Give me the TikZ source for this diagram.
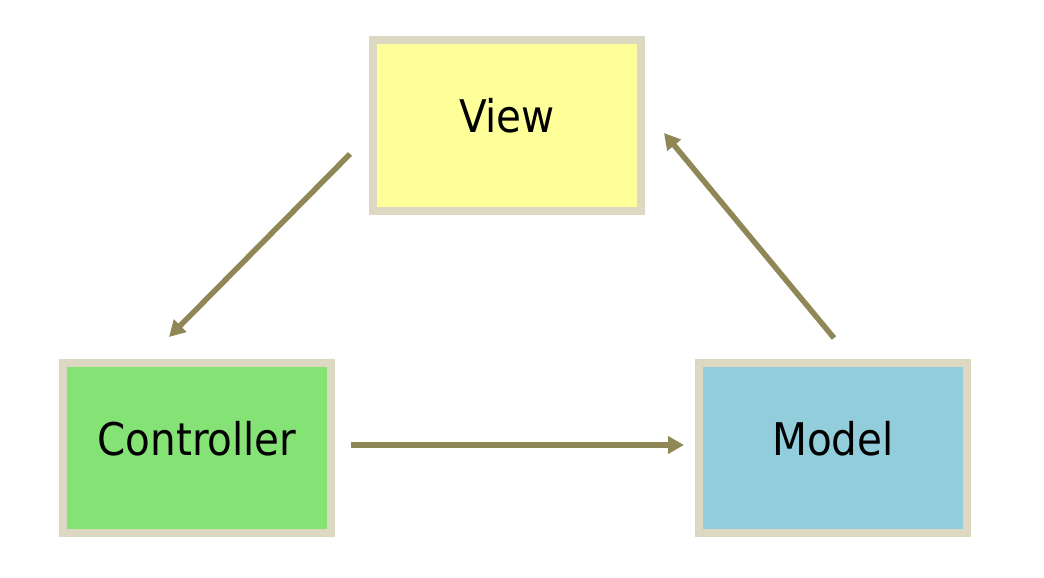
\documentclass[tikz,border=0pt]{standalone}
\usepackage{fontspec}
\usepackage{xcolor}
\usepackage{tikz}
\usetikzlibrary{arrows.meta}
\newfontfamily\boxfont{DejaVu Sans Condensed}
\definecolor{frame}{HTML}{DDD8C2}
\definecolor{viewfill}{HTML}{FFFF99}
\definecolor{ctrlfill}{HTML}{84E374}
\definecolor{modelfill}{HTML}{92CDDC}
\definecolor{olive}{HTML}{8F8755}
\tikzset{
  boxline/.style={draw=frame, line width=8pt, minimum width=268pt, minimum height=170pt,
    font=\boxfont\fontsize{45pt}{50pt}\selectfont, text height=34pt, text depth=20pt, inner sep=0pt},
  aline/.style={draw=olive, line width=5.5pt, -{Triangle[length=16pt,width=17pt]}}
}
\begin{document}
\begin{tikzpicture}[x=1pt,y=-1pt]
  \useasboundingbox (0,0) rectangle (1044,578);

  \node[boxline, fill=viewfill] (view) at (507,125.5) {View};
  \node[boxline, fill=ctrlfill] (ctrl) at (197,448) {Controller};
  \node[boxline, fill=modelfill] (model) at (833,448) {Model};

  \coordinate (v1) at (350,154);
  \coordinate (c1) at (169,337);
  \coordinate (c2) at (351,445);
  \coordinate (m1) at (684,445);
  \coordinate (m2) at (834,338);
  \coordinate (v2) at (664,133);

  \draw[aline] (v1) -- (c1);
  \draw[aline] (c2) -- (m1);
  \draw[aline] (m2) -- (v2);
\end{tikzpicture}
\end{document}
